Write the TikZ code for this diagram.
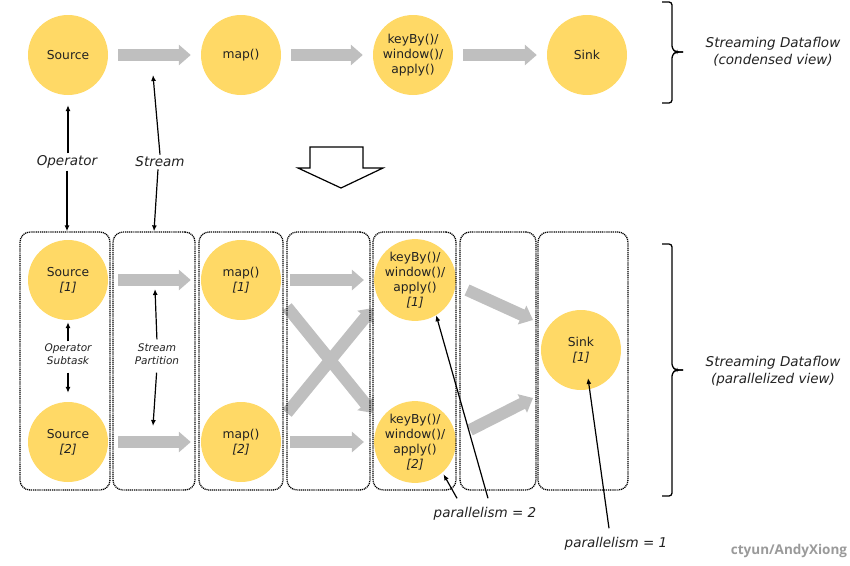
\documentclass[tikz,border=0pt]{standalone}
\usepackage{fontspec}
\setmainfont{DejaVu Sans}
\newfontfamily\wmfont{Open Sans}
\usetikzlibrary{arrows.meta,calc}
\definecolor{opfill}{HTML}{FFD966}
\definecolor{flowgrey}{HTML}{BFBFBF}
\definecolor{wmgrey}{HTML}{9A9A9A}
\definecolor{txt}{HTML}{222222}
\begin{document}
\begin{tikzpicture}[x=1pt,y=-1pt,
  op/.style={circle,fill=opfill,minimum size=80pt,inner sep=0pt,align=center,text=txt,font=\fontsize{12.3}{14.8}\selectfont},
  flowc/.style={draw=flowgrey,line width=12pt,-{Triangle[length=12pt,width=20pt]}},
  flow/.style={flowc,shorten <=10pt,shorten >=10pt},
  arr/.style={draw=black,line width=1.2pt,-{Latex[length=6pt,width=5pt]}},
  lane/.style={draw=black,line width=1.3pt,dash pattern=on 1.1pt off 0.8pt,rounded corners=10pt,inner sep=0pt},
  lbl/.style={font=\itshape\fontsize{13.5}{17}\selectfont,text=txt,align=center,inner sep=2pt},
  slbl/.style={font=\itshape\fontsize{10.5}{13}\selectfont,text=txt,align=center,inner sep=2pt},
  brace/.style={draw=black,line width=1.3pt,rounded corners=3pt}
]
\useasboundingbox (0,0) rectangle (850,565);

% condensed view
\node[op] (src) at (68,55) {Source};
\node[op] (map) at (241,55) {map()};
\node[op] (kb) at (413,55) {keyBy()/\\window()/\\apply()};
\node[op] (sink) at (587,55) {Sink};
\draw[flow] (src) -- (map);
\draw[flow] (map) -- (kb);
\draw[flow] (kb) -- (sink);

\draw[brace] (662,2) -- (672,2) -- (672,49) -- (676,52) -- (683,52);
\draw[brace] (683,52) -- (676,52) -- (672,55) -- (672,103) -- (662,103);
\node[lbl] (cview) at (773,52) {Streaming Dataflow\\(condensed view)};

% labels
\node[lbl] (oplbl) at (67,162) {Operator};
\node[lbl] (stlbl) at (160,162) {Stream};
\coordinate (stream1) at (153,75);

% hollow arrow
\draw[line width=1.2pt,fill=white] (310,147) -- (363,147) -- (363,168) -- (383,168) -- (341,188) -- (298,168) -- (310,168) -- cycle;

% parallel view
\node[op] (src1) at (68,280) {Source\\\textit{[1]}};
\node[op] (src2) at (68,442) {Source\\\textit{[2]}};
\node[op] (map1) at (241,280) {map()\\\textit{[1]}};
\node[op] (map2) at (241,442) {map()\\\textit{[2]}};
\node[op] (kb1) at (415,280) {keyBy()/\\window()/\\apply()\\\textit{[1]}};
\node[op] (kb2) at (415,442) {keyBy()/\\window()/\\apply()\\\textit{[2]}};
\node[op] (sink1) at (581,350) {Sink\\\textit{[1]}};

\draw[flow] (src1) -- (map1);
\draw[flow] (src2) -- (map2);
\draw[flow,shorten <=9pt] (map1) -- (kb1);
\draw[flow,shorten <=9pt] (map2) -- (kb2);
\draw[flowc] ($(map1.center)+(46,27)$) -- ($(kb2.center)+(-42,-29)$);
\draw[flowc] ($(map2.center)+(46,-29)$) -- ($(kb1.center)+(-42,28)$);
\draw[flowc] ($(kb1.center)+(52,10)$) -- ($(sink1.center)+(-48,-30)$);
\draw[flowc] ($(kb2.center)+(55,-12)$) -- ($(sink1.center)+(-48,48)$);

% lanes
\node[lane,minimum width=90pt,minimum height=258pt] (lane1) at (65,361) {};
\node[lane,minimum width=82pt,minimum height=258pt] (lane2) at (154,361) {};
\node[lane,minimum width=84pt,minimum height=258pt] (lane3) at (241,361) {};
\node[lane,minimum width=83pt,minimum height=258pt] (lane4) at (328.5,361) {};
\node[lane,minimum width=83pt,minimum height=258pt] (lane5) at (414.5,361) {};
\node[lane,minimum width=76pt,minimum height=258pt] (lane6) at (498,361) {};
\node[lane,minimum width=90pt,minimum height=258pt] (lane7) at (583,361) {};

\draw[arr,shorten >=10pt] (oplbl.north -| src.south) -- (src.south);
\draw[arr] (oplbl.south) -- (oplbl.south |- lane1.north);
\draw[arr] ([xshift=0pt]stlbl.north) -- (stream1);
\draw[arr] ([xshift=-2pt]stlbl.south) -- (lane2.north);

\node[slbl] (ostlbl) at (68,354) {Operator\\Subtask};
\node[slbl] (splbl) at (157,354) {Stream\\Partition};
\coordinate (sp1) at (155,289);
\coordinate (sp2) at (153,426);
\draw[arr,shorten >=2pt] (ostlbl.north) -- (src1.south);
\draw[arr,shorten <=6pt,shorten >=9pt] (ostlbl.south) -- (src2.north);
\draw[arr,shorten <=2pt] (splbl.north) -- (sp1);
\draw[arr,shorten <=6pt] (splbl.south) -- (sp2);

% parallelism labels
\node[lbl] (p2) at (485,514) {parallelism = 2};
\node[lbl] (p1) at (616,544) {parallelism = 1};
\draw[arr] ([xshift=3pt,yshift=7pt]p2.north) -- (kb1.-59);
\draw[arr,shorten >=2pt] ([xshift=-28pt,yshift=7pt]p2.north) -- (kb2.-48);
\draw[arr] ([xshift=-7pt,yshift=7pt]p1.north) -- ($(sink1.center)+(7,28)$);

% brace parallel
\draw[brace] (662,244) -- (672,244) -- (672,367) -- (676,370) -- (683,370);
\draw[brace] (683,370) -- (676,370) -- (672,373) -- (672,496) -- (662,496);
\node[lbl] (pview) at (773,371) {Streaming Dataflow\\(parallelized view)};

\node[font=\wmfont\bfseries\fontsize{13.5}{15}\selectfont,text=wmgrey,inner sep=0pt] (wm) at (789,551) {ctyun/AndyXiong};
\end{tikzpicture}
\end{document}
